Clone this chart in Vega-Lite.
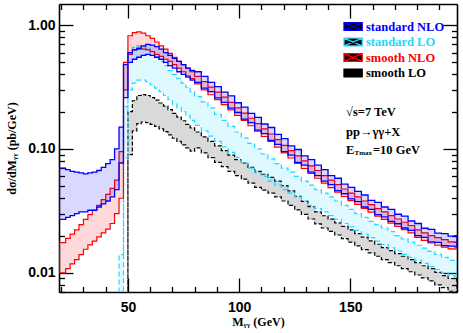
{
  "$schema": "https://vega.github.io/schema/vega-lite/v6.json",
  "width": 398,
  "height": 288,
  "autosize": {"type": "none"},
  "padding": {"left": 59, "top": 4, "right": 6, "bottom": 41},
  "background": "white",
  "config": {"view": {"stroke": null}},
  "data": {"values": [
    {"x":19,"bl":0.027,"bh":0.070,"cl":0.0001,"ch":0.0001,"rl":0.0100,"rh":0.0175,"kl":0.0001,"kh":0.0001},
    {"x":22,"bl":0.028,"bh":0.068,"cl":0.0001,"ch":0.0001,"rl":0.0108,"rh":0.0190,"kl":0.0001,"kh":0.0001},
    {"x":24,"bl":0.029,"bh":0.066,"cl":0.0001,"ch":0.0001,"rl":0.0118,"rh":0.0205,"kl":0.0001,"kh":0.0001},
    {"x":26,"bl":0.030,"bh":0.065,"cl":0.0001,"ch":0.0001,"rl":0.0128,"rh":0.0222,"kl":0.0001,"kh":0.0001},
    {"x":28,"bl":0.031,"bh":0.064,"cl":0.0001,"ch":0.0001,"rl":0.0140,"rh":0.0245,"kl":0.0001,"kh":0.0001},
    {"x":30,"bl":0.031,"bh":0.063,"cl":0.0001,"ch":0.0001,"rl":0.0155,"rh":0.0270,"kl":0.0001,"kh":0.0001},
    {"x":32,"bl":0.032,"bh":0.064,"cl":0.0001,"ch":0.0001,"rl":0.0168,"rh":0.0295,"kl":0.0001,"kh":0.0001},
    {"x":34,"bl":0.032,"bh":0.065,"cl":0.0001,"ch":0.0001,"rl":0.0180,"rh":0.0320,"kl":0.0001,"kh":0.0001},
    {"x":36,"bl":0.034,"bh":0.067,"cl":0.0001,"ch":0.0001,"rl":0.0195,"rh":0.0350,"kl":0.0001,"kh":0.0001},
    {"x":38,"bl":0.036,"bh":0.071,"cl":0.0001,"ch":0.0001,"rl":0.0210,"rh":0.0390,"kl":0.0001,"kh":0.0001},
    {"x":40,"bl":0.038,"bh":0.076,"cl":0.0001,"ch":0.0001,"rl":0.0225,"rh":0.0430,"kl":0.0001,"kh":0.0001},
    {"x":42,"bl":0.041,"bh":0.082,"cl":0.0001,"ch":0.0001,"rl":0.0250,"rh":0.0480,"kl":0.0001,"kh":0.0001},
    {"x":44,"bl":0.047,"bh":0.100,"cl":0.0001,"ch":0.0001,"rl":0.0300,"rh":0.0560,"kl":0.0001,"kh":0.0001},
    {"x":46,"bl":0.077,"bh":0.150,"cl":0.001,"ch":0.014,"rl":0.040,"rh":0.095,"kl":0.0001,"kh":0.0001},
    {"x":48,"bl":0.26,"bh":0.48,"cl":0.085,"ch":0.22,"rl":0.30,"rh":0.50,"kl":0.0001,"kh":0.0001},
    {"x":50,"bl":0.50,"bh":0.60,"cl":0.30,"ch":0.60,"rl":0.58,"rh":0.82,"kl":0.09,"kh":0.20},
    {"x":52,"bl":0.53,"bh":0.63,"cl":0.34,"ch":0.66,"rl":0.63,"rh":0.87,"kl":0.14,"kh":0.245},
    {"x":54,"bl":0.55,"bh":0.65,"cl":0.36,"ch":0.68,"rl":0.64,"rh":0.88,"kl":0.16,"kh":0.27},
    {"x":56,"bl":0.57,"bh":0.68,"cl":0.36,"ch":0.67,"rl":0.64,"rh":0.86,"kl":0.165,"kh":0.275},
    {"x":58,"bl":0.58,"bh":0.70,"cl":0.35,"ch":0.65,"rl":0.63,"rh":0.82,"kl":0.163,"kh":0.27},
    {"x":60,"bl":0.57,"bh":0.69,"cl":0.33,"ch":0.60,"rl":0.61,"rh":0.78,"kl":0.158,"kh":0.26},
    {"x":62,"bl":0.55,"bh":0.67,"cl":0.31,"ch":0.56,"rl":0.58,"rh":0.73,"kl":0.152,"kh":0.248},
    {"x":64,"bl":0.53,"bh":0.64,"cl":0.29,"ch":0.51,"rl":0.56,"rh":0.68,"kl":0.145,"kh":0.235},
    {"x":66,"bl":0.50,"bh":0.60,"cl":0.27,"ch":0.47,"rl":0.53,"rh":0.64,"kl":0.138,"kh":0.222},
    {"x":68,"bl":0.47,"bh":0.57,"cl":0.25,"ch":0.43,"rl":0.51,"rh":0.59,"kl":0.130,"kh":0.208},
    {"x":70,"bl":0.45,"bh":0.54,"cl":0.23,"ch":0.40,"rl":0.48,"rh":0.55,"kl":0.122,"kh":0.194},
    {"x":72,"bl":0.42,"bh":0.51,"cl":0.215,"ch":0.37,"rl":0.45,"rh":0.51,"kl":0.115,"kh":0.181},
    {"x":74,"bl":0.40,"bh":0.48,"cl":0.20,"ch":0.34,"rl":0.42,"rh":0.48,"kl":0.108,"kh":0.169},
    {"x":76,"bl":0.38,"bh":0.45,"cl":0.185,"ch":0.315,"rl":0.39,"rh":0.45,"kl":0.102,"kh":0.158},
    {"x":78,"bl":0.36,"bh":0.43,"cl":0.17,"ch":0.29,"rl":0.37,"rh":0.42,"kl":0.096,"kh":0.148},
    {"x":80,"bl":0.345,"bh":0.42,"cl":0.155,"ch":0.265,"rl":0.335,"rh":0.385,"kl":0.102,"kh":0.137},
    {"x":83,"bl":0.31,"bh":0.385,"cl":0.14,"ch":0.24,"rl":0.30,"rh":0.35,"kl":0.093,"kh":0.125},
    {"x":86,"bl":0.29,"bh":0.345,"cl":0.127,"ch":0.215,"rl":0.274,"rh":0.316,"kl":0.085,"kh":0.115},
    {"x":89,"bl":0.258,"bh":0.318,"cl":0.115,"ch":0.19,"rl":0.25,"rh":0.288,"kl":0.078,"kh":0.106},
    {"x":92,"bl":0.238,"bh":0.288,"cl":0.104,"ch":0.17,"rl":0.228,"rh":0.262,"kl":0.072,"kh":0.097},
    {"x":95,"bl":0.214,"bh":0.268,"cl":0.094,"ch":0.152,"rl":0.207,"rh":0.238,"kl":0.066,"kh":0.089},
    {"x":98,"bl":0.197,"bh":0.236,"cl":0.085,"ch":0.137,"rl":0.187,"rh":0.215,"kl":0.061,"kh":0.082},
    {"x":101,"bl":0.174,"bh":0.218,"cl":0.077,"ch":0.123,"rl":0.170,"rh":0.195,"kl":0.057,"kh":0.077},
    {"x":104,"bl":0.163,"bh":0.194,"cl":0.070,"ch":0.111,"rl":0.154,"rh":0.177,"kl":0.053,"kh":0.071},
    {"x":107,"bl":0.142,"bh":0.180,"cl":0.064,"ch":0.100,"rl":0.139,"rh":0.160,"kl":0.049,"kh":0.066},
    {"x":110,"bl":0.133,"bh":0.159,"cl":0.060,"ch":0.091,"rl":0.126,"rh":0.145,"kl":0.0465,"kh":0.0625},
    {"x":113,"bl":0.117,"bh":0.149,"cl":0.055,"ch":0.083,"rl":0.115,"rh":0.132,"kl":0.044,"kh":0.059},
    {"x":116,"bl":0.109,"bh":0.131,"cl":0.051,"ch":0.076,"rl":0.1035,"rh":0.119,"kl":0.041,"kh":0.055},
    {"x":119,"bl":0.095,"bh":0.121,"cl":0.047,"ch":0.070,"rl":0.093,"rh":0.107,"kl":0.038,"kh":0.0505},
    {"x":122,"bl":0.089,"bh":0.106,"cl":0.044,"ch":0.065,"rl":0.0845,"rh":0.097,"kl":0.035,"kh":0.0458},
    {"x":125,"bl":0.078,"bh":0.099,"cl":0.041,"ch":0.060,"rl":0.0765,"rh":0.088,"kl":0.0322,"kh":0.0414},
    {"x":128,"bl":0.074,"bh":0.088,"cl":0.038,"ch":0.055,"rl":0.0695,"rh":0.080,"kl":0.0296,"kh":0.0377},
    {"x":131,"bl":0.065,"bh":0.082,"cl":0.035,"ch":0.051,"rl":0.0635,"rh":0.073,"kl":0.0272,"kh":0.0342},
    {"x":134,"bl":0.061,"bh":0.074,"cl":0.033,"ch":0.047,"rl":0.058,"rh":0.067,"kl":0.0248,"kh":0.0311},
    {"x":137,"bl":0.055,"bh":0.068,"cl":0.031,"ch":0.044,"rl":0.053,"rh":0.061,"kl":0.0230,"kh":0.0289},
    {"x":140,"bl":0.0515,"bh":0.061,"cl":0.029,"ch":0.041,"rl":0.0487,"rh":0.056,"kl":0.0216,"kh":0.0271},
    {"x":143,"bl":0.046,"bh":0.058,"cl":0.027,"ch":0.038,"rl":0.0448,"rh":0.0515,"kl":0.0202,"kh":0.0253},
    {"x":146,"bl":0.0435,"bh":0.052,"cl":0.025,"ch":0.035,"rl":0.0413,"rh":0.0475,"kl":0.0189,"kh":0.0237},
    {"x":149,"bl":0.0395,"bh":0.049,"cl":0.0235,"ch":0.0325,"rl":0.0383,"rh":0.044,"kl":0.0177,"kh":0.0222},
    {"x":152,"bl":0.0375,"bh":0.0455,"cl":0.022,"ch":0.030,"rl":0.0357,"rh":0.041,"kl":0.0165,"kh":0.0207},
    {"x":155,"bl":0.034,"bh":0.0425,"cl":0.0205,"ch":0.028,"rl":0.0331,"rh":0.038,"kl":0.0154,"kh":0.0194},
    {"x":158,"bl":0.0325,"bh":0.0385,"cl":0.0192,"ch":0.026,"rl":0.0309,"rh":0.0355,"kl":0.0145,"kh":0.0181},
    {"x":161,"bl":0.0295,"bh":0.037,"cl":0.018,"ch":0.0245,"rl":0.0287,"rh":0.033,"kl":0.0136,"kh":0.0170},
    {"x":164,"bl":0.0283,"bh":0.034,"cl":0.0169,"ch":0.023,"rl":0.027,"rh":0.031,"kl":0.0128,"kh":0.0160},
    {"x":167,"bl":0.026,"bh":0.0325,"cl":0.0159,"ch":0.0215,"rl":0.0252,"rh":0.029,"kl":0.0121,"kh":0.0151},
    {"x":170,"bl":0.0249,"bh":0.0297,"cl":0.0150,"ch":0.020,"rl":0.0237,"rh":0.0272,"kl":0.0114,"kh":0.0143},
    {"x":173,"bl":0.0230,"bh":0.0287,"cl":0.0141,"ch":0.0188,"rl":0.0223,"rh":0.0256,"kl":0.0108,"kh":0.0136},
    {"x":176,"bl":0.0220,"bh":0.0262,"cl":0.0133,"ch":0.0177,"rl":0.021,"rh":0.0241,"kl":0.0102,"kh":0.0128},
    {"x":179,"bl":0.0200,"bh":0.0250,"cl":0.0126,"ch":0.0167,"rl":0.0193,"rh":0.0222,"kl":0.0096,"kh":0.0121},
    {"x":182,"bl":0.0193,"bh":0.0229,"cl":0.0119,"ch":0.0158,"rl":0.0183,"rh":0.021,"kl":0.0091,"kh":0.0114},
    {"x":185,"bl":0.0178,"bh":0.0224,"cl":0.0112,"ch":0.0149,"rl":0.0174,"rh":0.020,"kl":0.0086,"kh":0.0108},
    {"x":188,"bl":0.0176,"bh":0.0209,"cl":0.0106,"ch":0.0141,"rl":0.0167,"rh":0.0192,"kl":0.0080,"kh":0.0101},
    {"x":191,"bl":0.0166,"bh":0.0207,"cl":0.0100,"ch":0.0133,"rl":0.0161,"rh":0.0185,"kl":0.0076,"kh":0.0095},
    {"x":194,"bl":0.0164,"bh":0.0198,"cl":0.0095,"ch":0.0126,"rl":0.0156,"rh":0.0178,"kl":0.0071,"kh":0.0090},
    {"x":197,"bl":0.0162,"bh":0.0200,"cl":0.0093,"ch":0.0123,"rl":0.0155,"rh":0.0176,"kl":0.0070,"kh":0.0088},
    {"x":198,"bl":0.0162,"bh":0.0200,"cl":0.0093,"ch":0.0123,"rl":0.0155,"rh":0.0176,"kl":0.0070,"kh":0.0088}
  ]},
  "resolve": {"axis": {"x": "independent", "y": "independent"}},
  "layer": [
    {
      "mark": {"type": "area", "interpolate": "step-after", "clip": true, "fill": "#000000", "fillOpacity": 0.15, "strokeWidth": 1.2, "strokeDash": [4, 2]},
      "encoding": {
        "x": {"field": "x", "type": "quantitative", "scale": {"domain": [19, 198], "nice": false, "zero": false},
          "axis": {"orient": "bottom", "values": [20,30,40,50,60,70,80,90,100,110,120,130,140,150,160,170,180,190],
            "labelExpr": "datum.value % 50 == 0 ? datum.label : ''",
            "tickSize": {"condition": {"test": "datum.value % 50 == 0", "value": -14}, "value": -5.5},
            "labelPadding": 22, "labelFont": "Liberation Sans", "labelFontWeight": "bold", "labelFontSize": 14, "labelColor": "#000",
            "labelFlush": false, "labelOverlap": false, "tickColor": "#000", "tickWidth": 1.3, "domainColor": "#000", "domainWidth": 1.6, "grid": false,
            "title": "Mᵧᵧ    (GeV)", "titleFont": "Liberation Serif", "titleFontWeight": "bold", "titleFontSize": 12, "titleColor": "#000", "titlePadding": -6}},
        "y": {"field": "kh", "type": "quantitative", "scale": {"type": "log", "domain": [0.007, 1.48], "nice": false},
          "axis": {"orient": "left", "values": [0.007,0.008,0.009,0.01,0.02,0.03,0.04,0.05,0.06,0.07,0.08,0.09,0.1,0.2,0.3,0.4,0.5,0.6,0.7,0.8,0.9,1],
            "labelExpr": "datum.value == 1 ? '1.00' : datum.value == 0.1 ? '0.10' : datum.value == 0.01 ? '0.01' : ''",
            "tickSize": {"condition": {"test": "datum.value == 1 || datum.value == 0.1 || datum.value == 0.01", "value": -14}, "value": -5.5},
            "labelPadding": 18, "labelFont": "Liberation Sans", "labelFontWeight": "bold", "labelFontSize": 14, "labelColor": "#000",
            "labelFlush": false, "labelOverlap": false, "tickColor": "#000", "tickWidth": 1.3, "domainColor": "#000", "domainWidth": 1.6, "grid": false,
            "title": "dσ/dMᵧᵧ (pb/GeV)", "titleFont": "Liberation Serif", "titleFontWeight": "bold", "titleFontSize": 12, "titleColor": "#000", "titlePadding": 9}},
        "y2": {"field": "kl"},
        "stroke": {"datum": "smooth LO",
          "scale": {"domain": ["standard NLO", "standard LO", "smooth NLO", "smooth LO"], "range": ["#0000ff", "#22d8ff", "#ff0000", "#000000"]},
          "legend": {"orient": "none", "legendX": 286.6, "legendY": 15, "title": null,
            "symbolType": "M-1.4,-0.6H1.4V0.6H-1.4Z M-1.4,-0.6L1.4,0.6 M-1.4,0.6L1.4,-0.6", "symbolSize": 169,
            "symbolFillColor": "transparent", "symbolOpacity": 1, "symbolStrokeWidth": 1.3, "symbolDash": [],
            "labelColor": {"expr": "scale('stroke', datum.value)"},
            "labelFont": "Liberation Serif", "labelFontWeight": "bold", "labelFontSize": 12.5, "labelOffset": 5.4, "rowPadding": 1.5}}
      }
    },
    {
      "mark": {"type": "area", "interpolate": "step-after", "clip": true, "fill": "#22d8ff", "fillOpacity": 0.15, "strokeWidth": 1.2, "strokeDash": [5, 3]},
      "encoding": {
        "x": {"field": "x", "type": "quantitative", "scale": {"domain": [19, 198], "nice": false, "zero": false},
          "axis": {"orient": "top", "values": [20,30,40,50,60,70,80,90,100,110,120,130,140,150,160,170,180,190], "labels": false,
            "tickSize": {"condition": {"test": "datum.value % 50 == 0", "value": -14}, "value": -5.5},
            "tickColor": "#000", "tickWidth": 1.3, "domainColor": "#000", "domainWidth": 1.6, "grid": false, "title": null}},
        "y": {"field": "ch", "type": "quantitative", "scale": {"type": "log", "domain": [0.007, 1.48], "nice": false},
          "axis": {"orient": "right", "values": [0.007,0.008,0.009,0.01,0.02,0.03,0.04,0.05,0.06,0.07,0.08,0.09,0.1,0.2,0.3,0.4,0.5,0.6,0.7,0.8,0.9,1], "labels": false,
            "tickSize": {"condition": {"test": "datum.value == 1 || datum.value == 0.1 || datum.value == 0.01", "value": -14}, "value": -5.5},
            "tickColor": "#000", "tickWidth": 1.3, "domainColor": "#000", "domainWidth": 1.6, "grid": false, "title": null}},
        "y2": {"field": "cl"},
        "stroke": {"datum": "standard LO"}
      }
    },
    {
      "mark": {"type": "area", "interpolate": "step-after", "clip": true, "fill": "#ff0000", "fillOpacity": 0.15, "strokeWidth": 1.2},
      "encoding": {
        "x": {"field": "x", "type": "quantitative", "scale": {"domain": [19, 198], "nice": false, "zero": false}, "axis": null},
        "y": {"field": "rh", "type": "quantitative", "scale": {"type": "log", "domain": [0.007, 1.48], "nice": false}, "axis": null},
        "y2": {"field": "rl"},
        "stroke": {"datum": "smooth NLO"}
      }
    },
    {
      "mark": {"type": "area", "interpolate": "step-after", "clip": true, "fill": "#0000ff", "fillOpacity": 0.15, "strokeWidth": 1.3},
      "encoding": {
        "x": {"field": "x", "type": "quantitative", "scale": {"domain": [19, 198], "nice": false, "zero": false}, "axis": null},
        "y": {"field": "bh", "type": "quantitative", "scale": {"type": "log", "domain": [0.007, 1.48], "nice": false}, "axis": null},
        "y2": {"field": "bl"},
        "stroke": {"datum": "standard NLO"}
      }
    },
    {
      "data": {"values": [{}]},
      "mark": {"type": "text", "text": "√s=7 TeV", "font": "Liberation Serif", "fontWeight": "bold", "fontSize": 12.5, "align": "left", "baseline": "middle", "color": "#000"},
      "encoding": {
        "x": {"datum": 148.1, "type": "quantitative", "scale": {"domain": [19, 198], "nice": false, "zero": false}, "axis": null},
        "y": {"datum": 0.199, "type": "quantitative", "scale": {"type": "log", "domain": [0.007, 1.48], "nice": false}, "axis": null}
      }
    },
    {
      "data": {"values": [{}]},
      "mark": {"type": "text", "text": "pp→γγ+X", "font": "Liberation Serif", "fontWeight": "bold", "fontSize": 12.5, "align": "left", "baseline": "middle", "color": "#000"},
      "encoding": {
        "x": {"datum": 148.1, "type": "quantitative", "scale": {"domain": [19, 198], "nice": false, "zero": false}, "axis": null},
        "y": {"datum": 0.1372, "type": "quantitative", "scale": {"type": "log", "domain": [0.007, 1.48], "nice": false}, "axis": null}
      }
    },
    {
      "data": {"values": [{}]},
      "mark": {"type": "text", "text": "E", "font": "Liberation Serif", "fontWeight": "bold", "fontSize": 12.5, "align": "left", "baseline": "middle", "color": "#000"},
      "encoding": {
        "x": {"datum": 148.1, "type": "quantitative", "scale": {"domain": [19, 198], "nice": false, "zero": false}, "axis": null},
        "y": {"datum": 0.0981, "type": "quantitative", "scale": {"type": "log", "domain": [0.007, 1.48], "nice": false}, "axis": null}
      }
    },
    {
      "data": {"values": [{}]},
      "mark": {"type": "text", "text": "Tmax", "font": "Liberation Serif", "fontWeight": "bold", "fontSize": 7, "align": "left", "baseline": "middle", "dy": 3.5, "color": "#000"},
      "encoding": {
        "x": {"datum": 151.9, "type": "quantitative", "scale": {"domain": [19, 198], "nice": false, "zero": false}, "axis": null},
        "y": {"datum": 0.0981, "type": "quantitative", "scale": {"type": "log", "domain": [0.007, 1.48], "nice": false}, "axis": null}
      }
    },
    {
      "data": {"values": [{}]},
      "mark": {"type": "text", "text": "=10 GeV", "font": "Liberation Serif", "fontWeight": "bold", "fontSize": 12.5, "align": "left", "baseline": "middle", "color": "#000"},
      "encoding": {
        "x": {"datum": 160.2, "type": "quantitative", "scale": {"domain": [19, 198], "nice": false, "zero": false}, "axis": null},
        "y": {"datum": 0.0981, "type": "quantitative", "scale": {"type": "log", "domain": [0.007, 1.48], "nice": false}, "axis": null}
      }
    }
  ]
}
